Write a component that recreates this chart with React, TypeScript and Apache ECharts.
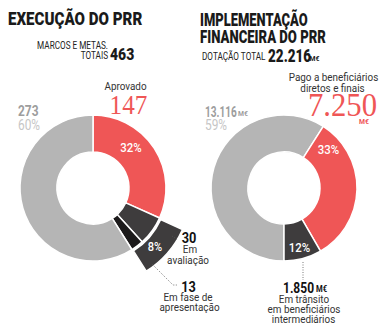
import React, { useEffect, useRef } from "react";
import * as echarts from "echarts";

// ---- data ----
const leftCategories = ["Aprovado", "Em avaliação", "Em fase de apresentação", "Restantes"];
const leftValues = [147, 30, 13, 273];
const leftTotal = 463;
const leftPercents = ["32%", "8%", "60%"];

const rightCategories = ["Restante", "Pago a beneficiários diretos e finais", "Em trânsito em beneficiários intermediários"];
const rightValues = [13116, 7250, 1850];
const rightTotalLabel = "22.216";
const rightValueLabels = ["13.116", "7.250", "1.850"];
const rightPercents = ["59%", "33%", "12%"];

const RED = "#ef5656";
const GRAY = "#b5b5b5";
const DARK = "#3e3c3d";
const BLACK = "#1c1a1b";
const SANS = "Roboto";
const SERIF = "Liberation Serif";

type TOpts = {
  size?: number;
  weight?: string | number;
  color?: string;
  align?: "left" | "center" | "right";
  family?: string;
  sx?: number;
};

function t(text: string, x: number, y: number, o: TOpts = {}) {
  return {
    type: "text",
    x,
    y,
    z: 100,
    scaleX: o.sx ?? 1,
    silent: true,
    style: {
      text,
      fill: o.color ?? "#222",
      font: `${o.weight ?? "normal"} ${o.size ?? 11}px ${o.family ?? SANS}`,
      align: o.align ?? "left",
      verticalAlign: "middle",
    },
  };
}

function dotted(points: number[][]) {
  return {
    type: "polyline",
    z: 100,
    silent: true,
    shape: { points },
    style: { stroke: "#555", lineWidth: 0.8, lineDash: [1, 1.5], fill: null },
  };
}

export default function App() {
  const ref = useRef<HTMLDivElement>(null);

  useEffect(() => {
    if (!ref.current) return;
    const chart = echarts.init(ref.current, null, { renderer: "svg" });
    const border = { borderColor: "#fff", borderWidth: 1.5 };
    const colorsL = [RED, DARK, BLACK, GRAY];
    const colorsR = [GRAY, RED, DARK];
    const explodedValue = leftValues[1] + leftValues[2];

    chart.setOption({
      animation: false,
      backgroundColor: "#fff",
      series: [
        {
          type: "pie",
          silent: true,
          z: 2,
          center: [93, 188],
          radius: [36, 73],
          startAngle: 90,
          clockwise: true,
          label: { show: false },
          labelLine: { show: false },
          data: leftValues.map((v, i) => ({
            name: leftCategories[i],
            value: v,
            itemStyle: { color: colorsL[i], ...border },
          })),
        },
        {
          type: "pie",
          silent: true,
          z: 3,
          center: [95, 190],
          radius: [72, 96],
          startAngle: 90,
          clockwise: true,
          label: { show: false },
          labelLine: { show: false },
          data: [
            { name: "a", value: leftValues[0], itemStyle: { color: "transparent", borderWidth: 0 } },
            { name: "8%", value: explodedValue, itemStyle: { color: DARK, ...border } },
            { name: "b", value: leftValues[3], itemStyle: { color: "transparent", borderWidth: 0 } },
          ],
        },
        {
          type: "pie",
          silent: true,
          z: 2,
          center: [284, 188],
          radius: [36, 73],
          startAngle: 270,
          clockwise: true,
          label: { show: false },
          labelLine: { show: false },
          data: rightValues.map((v, i) => ({
            name: rightCategories[i],
            value: v,
            itemStyle: { color: colorsR[i], ...border },
          })),
        },
      ],
      graphic: [
        // left header
        t("EXECUÇÃO DO PRR", 8, 19.5, { size: 18, weight: 900, color: "#1a1a1a", sx: 0.84 }),
        t("MARCOS E METAS.", 108, 45.5, { size: 10, color: "#222", align: "right", sx: 0.82 }),
        t("TOTAIS", 108, 56, { size: 10, color: "#222", align: "right", sx: 0.82 }),
        t(String(leftTotal), 110, 54.5, { size: 17, weight: 900, color: "#1a1a1a", sx: 0.82 }),
        // right header
        t("IMPLEMENTAÇÃO", 200, 19.5, { size: 18, weight: 900, color: "#1a1a1a", sx: 0.72 }),
        t("FINANCEIRA DO PRR", 200, 37, { size: 18, weight: 900, color: "#1a1a1a", sx: 0.73 }),
        t("DOTAÇÃO TOTAL", 202, 57, { size: 10, color: "#222", sx: 0.82 }),
        t(rightTotalLabel, 268, 55.5, { size: 18, weight: 900, color: "#1a1a1a", sx: 0.75 }),
        t("M€", 309.5, 58.5, { size: 8, weight: "bold", color: "#1a1a1a", sx: 0.85 }),
        // left labels
        t(leftCategories[0], 125.5, 86.5, { size: 11, color: "#333", align: "center", sx: 0.9 }),
        t(String(leftValues[0]), 128.5, 105, { size: 28, color: RED, align: "center", family: SERIF, sx: 0.9 }),
        t(String(leftValues[3]), 18, 111.5, { size: 14, weight: "bold", color: "#9d9d9d", sx: 0.85 }),
        t(leftPercents[2], 18, 125.5, { size: 14, color: "#c6c6c6", sx: 0.85 }),
        t(leftPercents[0], 131, 147.5, { size: 13, weight: 500, color: "#fff", align: "center", sx: 0.88 }),
        t(leftPercents[1], 155, 246.5, { size: 13, weight: 500, color: "#fff", align: "center", sx: 0.85 }),
        t(String(leftValues[1]), 189, 238, { size: 15, weight: "bold", color: "#111", align: "center", sx: 0.85 }),
        t("Em", 190, 249.5, { size: 11, color: "#333", align: "center", sx: 0.9 }),
        t("avaliação", 188, 260, { size: 11, color: "#333", align: "center", sx: 0.9 }),
        t(String(leftValues[2]), 188.5, 287, { size: 15, weight: "bold", color: "#111", align: "center", sx: 0.85 }),
        t("Em fase de", 188, 297, { size: 11, color: "#333", align: "center", sx: 0.9 }),
        t("apresentação", 189.5, 307.5, { size: 11, color: "#333", align: "center", sx: 0.9 }),
        dotted([[172, 236], [178, 240]]),
        dotted([[152, 264], [173, 285], [178, 285]]),
        // right labels
        t("Pago a beneficiários", 333.5, 77.5, { size: 11, color: "#333", align: "center", sx: 0.9 }),
        t("diretos e finais", 332.5, 88, { size: 11, color: "#333", align: "center", sx: 0.9 }),
        t(rightValueLabels[1], 342.5, 105.5, { size: 33, color: RED, align: "center", family: SERIF, sx: 0.93 }),
        t("M€", 364, 121, { size: 8, weight: "bold", color: RED, align: "center", sx: 0.85 }),
        t(rightValueLabels[0], 205, 112, { size: 14, weight: "bold", color: "#9d9d9d", sx: 0.72 }),
        t("M€", 238, 113.5, { size: 8, weight: "bold", color: "#9d9d9d", sx: 0.85 }),
        t(rightPercents[0], 205, 125.5, { size: 14, color: "#c6c6c6", sx: 0.85 }),
        t(rightPercents[1], 328.5, 149.5, { size: 13, weight: 500, color: "#fff", align: "center", sx: 0.88 }),
        t(rightPercents[2], 299.5, 248, { size: 13, weight: 500, color: "#fff", align: "center", sx: 0.88 }),
        dotted([[303, 262], [303, 280]]),
        t(rightValueLabels[2], 283, 287, { size: 15, weight: "bold", color: "#111", sx: 0.8 }),
        t("M€", 316, 288.5, { size: 9, weight: "bold", color: "#111", sx: 0.85 }),
        t("Em trânsito", 304, 299, { size: 11, color: "#333", align: "center", sx: 0.9 }),
        t("em beneficiários", 304, 309, { size: 11, color: "#333", align: "center", sx: 0.9 }),
        t("intermediários", 303.5, 319, { size: 11, color: "#333", align: "center", sx: 0.9 }),
      ],
    });
    return () => chart.dispose();
  }, []);

  return (
    <div
      ref={ref}
      style={{ position: "fixed", left: 0, top: 0, width: 390, height: 332, background: "#fff" }}
    />
  );
}
